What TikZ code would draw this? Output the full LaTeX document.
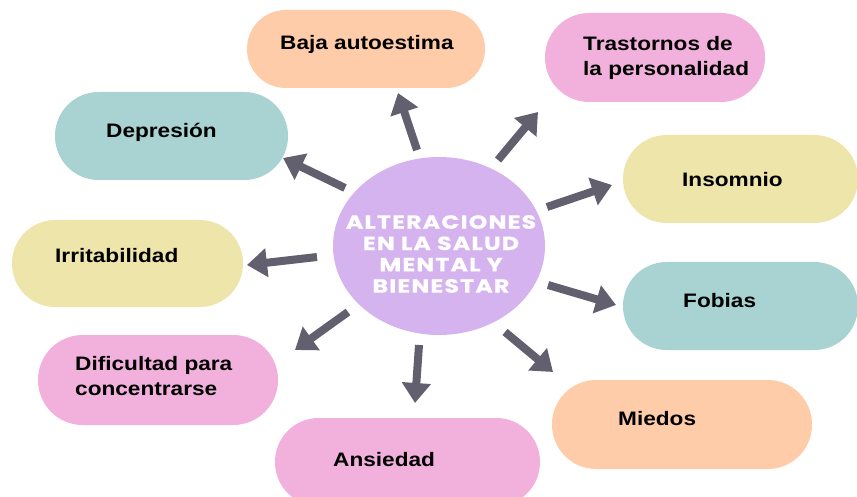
\documentclass[tikz,border=0pt]{standalone}
\usepackage{fontspec}
\usetikzlibrary{shapes.geometric,arrows.meta}
\newfontfamily\pillfont[FakeStretch=1.16]{Liberation Sans}
\newfontfamily\ctrfont[FakeStretch=1.25,LetterSpace=6,BoldFeatures={FakeBold=0.6}]{Poppins}
\definecolor{peach}{HTML}{FFCCA9}
\definecolor{pinkp}{HTML}{F2B1DC}
\definecolor{tealp}{HTML}{A9D3D3}
\definecolor{yellowp}{HTML}{EEE5AA}
\definecolor{purplec}{HTML}{D4B3EE}
\definecolor{arrowc}{HTML}{62606F}
\begin{document}
\begin{tikzpicture}[x=1pt,y=-1pt,
  pill/.style 2 args={rectangle, inner sep=0pt, minimum width=#1, minimum height=#2, rounded corners=#2/2-0.3pt},
  ptext/.style={inner sep=0pt, font=\pillfont\bfseries\fontsize{19.5pt}{25pt}\selectfont, text=black, align=left},
  arr/.style={draw=arrowc, line width=8pt, -{Triangle[width=28pt,length=20pt]}}
]
\useasboundingbox (0,0) rectangle (857,497);
\clip (0,0) rectangle (857,497);
% pills
\node[pill={238pt}{78pt}, fill=peach]   (baja)  at (366,49) {};
\node[pill={220pt}{89pt}, fill=pinkp]   (trast) at (655,57.5) {};
\node[pill={233pt}{88pt}, fill=tealp]   (depr)  at (171.5,136) {};
\node[pill={235pt}{88pt}, fill=yellowp] (insom) at (740.5,179) {};
\node[pill={231pt}{87pt}, fill=yellowp] (irrit) at (127.5,263.5) {};
\node[pill={235pt}{88pt}, fill=tealp]   (fob)   at (740.5,306) {};
\node[pill={240pt}{90pt}, fill=pinkp]   (dif)   at (158,380) {};
\node[pill={260pt}{89pt}, fill=peach]   (mied)  at (682,424.5) {};
\node[pill={265pt}{88pt}, fill=pinkp]   (ansi)  at (407.5,462) {};
% texts
\node[ptext, anchor=base west] (tbaja)  at (280,50) {Baja autoestima};
\node[ptext, anchor=north west] (ttrast) at (583,36) {Trastornos de\\la personalidad};
\node[ptext, anchor=base west] (tdepr)  at (106,138) {Depresión};
\node[ptext, anchor=base west] (tinsom) at (682,187) {Insomnio};
\node[ptext, anchor=base west] (tirrit) at (55,262) {Irritabilidad};
\node[ptext, anchor=base west] (tfob)   at (683,307) {Fobias};
\node[ptext, anchor=north west] (tdif)  at (75,356) {Dificultad para\\concentrarse};
\node[ptext, anchor=base west] (tmied)  at (618,425) {Miedos};
\node[ptext, anchor=base west] (tansi)  at (333,466) {Ansiedad};
% centre
\node[ellipse, fill=purplec, minimum width=212pt, minimum height=178pt, inner sep=0pt] (c) at (439,246) {};
\node[inner sep=0pt, anchor=north, align=center, text=white,
      font=\ctrfont\bfseries\fontsize{19pt}{21.3pt}\selectfont] (ctext) at (441,215)
  {ALTERACIONES\\EN LA SALUD\\MENTAL Y\\BIENESTAR};
% arrow coordinates
\coordinate (a1) at (417,150); \coordinate (b1) at (398,93);
\coordinate (a2) at (498,160); \coordinate (b2) at (538,112);
\coordinate (a3) at (345,188); \coordinate (b3) at (283,158);
\coordinate (a4) at (317,257); \coordinate (b4) at (247,265);
\coordinate (a5) at (348,312); \coordinate (b5) at (295,350);
\coordinate (a6) at (419,345); \coordinate (b6) at (415,403);
\coordinate (a7) at (505,332); \coordinate (b7) at (553,372);
\coordinate (a8) at (548,285); \coordinate (b8) at (616,305);
\coordinate (a9) at (547,207); \coordinate (b9) at (612,185);
\foreach \i in {1,...,9} { \draw[arr] (a\i) -- (b\i); }
\end{tikzpicture}
\end{document}
